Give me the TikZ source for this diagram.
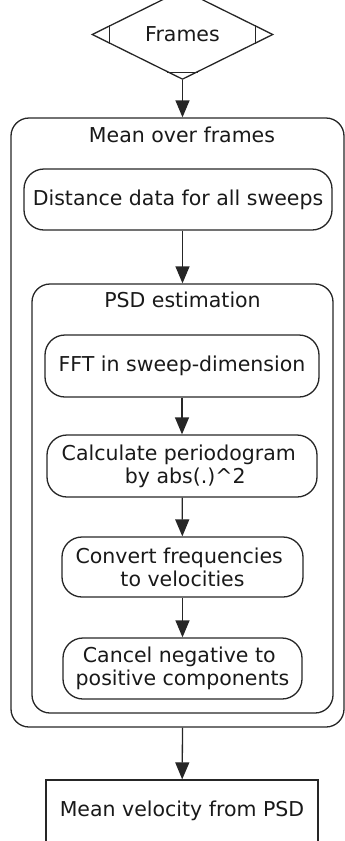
\documentclass[tikz,border=0pt]{standalone}
\usepackage{fontspec}
\setmainfont{DejaVu Sans}
\usetikzlibrary{shapes.geometric,arrows.meta,calc}

\begin{document}
\begin{tikzpicture}[x=1pt,y=-1pt,
  every node/.style={font=\fontsize{20.5}{23}\selectfont, text=black!90},
  line/.style={draw=black!85, line width=1.3pt},
  rbox/.style={line, rounded corners=20pt, inner sep=0pt, align=center},
  sqbox/.style={line, inner sep=0pt, align=center},
  cluster/.style={line, rounded corners=18pt, inner sep=0pt},
  flow/.style={line, -{Triangle[length=17pt,width=14pt]}},
]
\useasboundingbox (0,0) rectangle (345,841);

% entry: frames (diamond with cut corners)
\node[diamond, line, minimum width=181pt, minimum height=61pt, inner sep=0pt]
  (frames) at (182.5,34.5) {Frames};
\draw[line] ($(frames.north)!0.17!(frames.west)$) -- ($(frames.north)!0.17!(frames.east)$);
\draw[line] ($(frames.south)!0.17!(frames.west)$) -- ($(frames.south)!0.17!(frames.east)$);
\draw[line] ($(frames.west)!0.2!(frames.north)$) -- ($(frames.west)!0.2!(frames.south)$);
\draw[line] ($(frames.east)!0.2!(frames.north)$) -- ($(frames.east)!0.2!(frames.south)$);

% outer cluster: mean over frames
\node[cluster, minimum width=333pt, minimum height=609pt] (outer) at (177.5,422.5) {};
\node (outerlbl) at (182,135) {Mean over frames};

\node[rbox, minimum width=308pt, minimum height=61pt] (dist) at (178,199.5)
  {Distance data for all sweeps};

% inner cluster: PSD estimation
\node[cluster, minimum width=301pt, minimum height=429pt] (psd) at (182.5,498.5) {};
\node (psdlbl) at (182.5,300) {PSD estimation};

\node[rbox, minimum width=274pt, minimum height=62pt] (fft) at (182,366)
  {FFT in sweep-dimension};
\node[rbox, minimum width=270pt, minimum height=62pt] (calc) at (182,466)
  {Calculate periodogram\hspace*{6.5pt}\\\hspace*{6.5pt}by abs(.)\textasciicircum{}2};
\node[rbox, minimum width=241pt, minimum height=60pt] (conv) at (182.5,567)
  {Convert frequencies\hspace*{6.5pt}\\to velocities};
\node[rbox, minimum width=239pt, minimum height=61pt] (canc) at (182.5,668.5)
  {Cancel negative to\hspace*{6.5pt}\\positive components};

% result
\node[sqbox, minimum width=272pt, minimum height=62pt] (mean) at (182,811)
  {Mean velocity from PSD};

% connectors
\draw[flow] (frames.south) -- (frames.south |- outer.north);
\draw[flow] (frames.south |- dist.south) -- (frames.south |- psd.north);
\draw[flow] (fft) -- (calc);
\draw[flow] (calc) -- (conv);
\draw[flow] (conv) -- (canc);
\draw[flow] (frames.south |- outer.south) -- (mean);
\end{tikzpicture}
\end{document}
